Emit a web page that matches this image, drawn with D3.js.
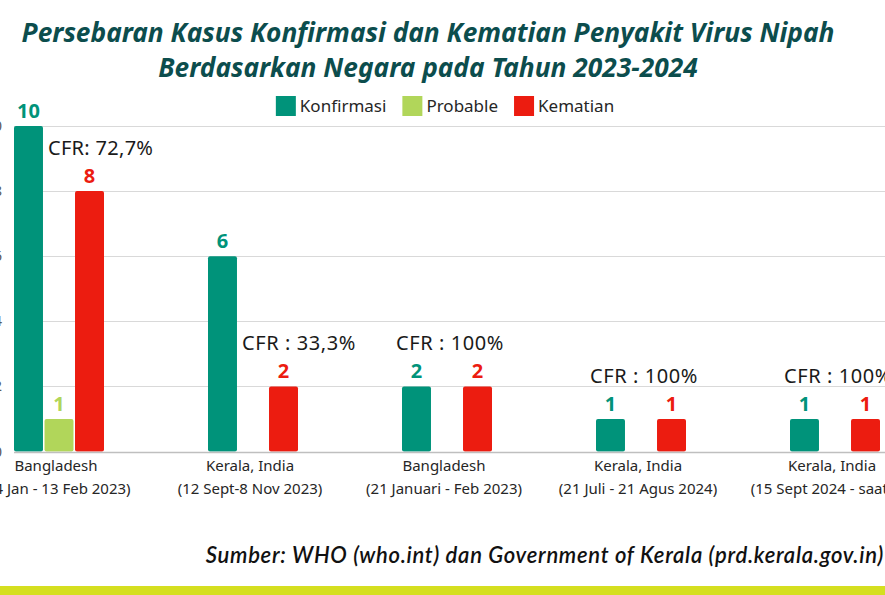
<!DOCTYPE html>
<html>
<head>
<meta charset="utf-8">
<script src="https://d3js.org/d3.v7.min.js"></script>
<style>
  body { margin: 0; background: #fff; }
  text { font-family: "Noto Sans", sans-serif; }
</style>
</head>
<body>
<svg id="chart" width="885" height="595"></svg>
<script>
  // data
  var categories = ["Bangladesh|(24 Jan - 13 Feb 2023)",
                    "Kerala, India|(12 Sept-8 Nov 2023)",
                    "Bangladesh|(21 Januari - Feb 2023)",
                    "Kerala, India|(21 Juli - 21 Agus 2024)",
                    "Kerala, India|(15 Sept 2024 - saat ini)"];
  var series = ["Konfirmasi", "Probable", "Kematian"];
  var konfirmasi = [10, 6, 2, 1, 1];
  var probable = [1, 0, 0, 0, 0];
  var kematian = [8, 2, 2, 1, 1];
  var cfr = ["CFR: 72,7%", "CFR : 33,3%", "CFR : 100%", "CFR : 100%", "CFR : 100%"];
  var yTicks = [0, 2, 4, 6, 8, 10];

  var colors = { Konfirmasi: "#00937a", Probable: "#b1d65a", Kematian: "#ec1c10" };

  var rows = categories.map(function(c, i) {
    return { cat: c, Konfirmasi: konfirmasi[i], Probable: probable[i], Kematian: kematian[i], cfr: cfr[i] };
  });

  var svg = d3.select("#chart");
  var groupW = 90;

  var x0 = d3.scaleBand().domain(categories).range([-38, 932]);
  var x1 = d3.scaleBand().domain(series).range([0, groupW]).paddingInner(0.05);
  var y = d3.scaleLinear().domain([0, 10]).range([451.5, 126]);
  var off = (x0.bandwidth() - groupW) / 2;

  // title
  var title = svg.append("g").attr("fill", "#0c4d4d")
    .style("font-family", "Lato").style("font-style", "italic").style("font-weight", 700)
    .style("font-size", "26.3px").attr("text-anchor", "middle");
  title.append("text").attr("x", 428).attr("y", 42)
    .text("Persebaran Kasus Konfirmasi dan Kematian Penyakit Virus Nipah");
  title.append("text").attr("x", 428).attr("y", 77)
    .text("Berdasarkan Negara pada Tahun 2023-2024");

  // gridlines + y labels (mostly outside the crop)
  svg.append("g").selectAll("line").data(yTicks.slice(1)).join("line")
    .attr("x1", 14).attr("x2", 885)
    .attr("y1", function(d) { return Math.round(y(d)) + 0.5; })
    .attr("y2", function(d) { return Math.round(y(d)) + 0.5; })
    .attr("stroke", "#d9d9d9").attr("stroke-width", 1);
  svg.append("g").selectAll("text").data(yTicks).join("text")
    .attr("x", 2).attr("y", function(d) { return y(d) + 5; })
    .attr("text-anchor", "end").attr("fill", "#595959").style("font-size", "15px")
    .text(function(d) { return d; });

  // bars
  var groups = svg.append("g").selectAll("g").data(rows).join("g")
    .attr("transform", function(d) { return "translate(" + (x0(d.cat) + off) + ",0)"; });

  function present(d) {
    return series.filter(function(s) { return d[s] > 0; }).map(function(s) { return { key: s, value: d[s] }; });
  }

  groups.selectAll("rect").data(present).join("rect")
      .attr("x", function(d) { return x1(d.key); })
      .attr("y", function(d) { return y(d.value); })
      .attr("width", x1.bandwidth())
      .attr("height", function(d) { return y(0) - y(d.value); })
      .attr("rx", 2)
      .attr("fill", function(d) { return colors[d.key]; });

  groups.selectAll("text.val").data(present).join("text").attr("class", "val")
      .attr("x", function(d) { return x1(d.key) + x1.bandwidth() / 2; })
      .attr("y", function(d) { return y(d.value) - 8; })
      .attr("text-anchor", "middle")
      .attr("fill", function(d) { return colors[d.key]; })
      .style("font-size", "20px").style("font-weight", 700)
      .text(function(d) { return d.value; });

  // baseline
  svg.append("line").attr("x1", 14).attr("x2", 885)
    .attr("y1", Math.round(y(0)) + 0.5).attr("y2", Math.round(y(0)) + 0.5)
    .attr("stroke", "#bfbfbf").attr("stroke-width", 1.5);

  // CFR labels: beside the konfirmasi bar when it is taller, else centred above
  groups.append("text")
    .attr("x", function(d) { return d.Konfirmasi > d.Kematian ? x1("Konfirmasi") + x1.bandwidth() + 5 : groupW / 2 + 3; })
    .attr("y", function(d) { return y(d.Kematian) - 36; })
    .attr("text-anchor", function(d) { return d.Konfirmasi > d.Kematian ? "start" : "middle"; })
    .attr("fill", "#1a1a1a").style("font-size", "20px")
    .style("letter-spacing", function(d) { return d.cfr.indexOf(" : ") > -1 ? "0.6px" : "0.3px"; })
    .text(function(d) { return d.cfr; });

  // category labels
  var cl = groups.append("text").attr("text-anchor", "middle").attr("fill", "#262626").style("font-size", "15px");
  cl.append("tspan").attr("x", groupW / 2 - 3).attr("y", 471).text(function(d) { return d.cat.split("|")[0]; });
  cl.append("tspan").attr("x", groupW / 2 - 3).attr("y", 494).text(function(d) { return d.cat.split("|")[1]; });

  // legend
  var legend = svg.append("g");
  var lx = 0;
  series.forEach(function(s) {
    var item = legend.append("g").attr("transform", "translate(" + lx + ",0)");
    item.append("rect").attr("x", 0).attr("y", 96).attr("width", 20).attr("height", 20).attr("fill", colors[s]);
    var t = item.append("text").attr("x", 24).attr("y", 112).attr("fill", "#262626").style("font-size", "17px").text(s);
    lx += 24 + t.node().getComputedTextLength() + 16;
  });
  var lw = lx - 16;
  legend.attr("transform", "translate(" + (445 - lw / 2) + ",0)");

  // source
  svg.append("text").attr("x", 884).attr("y", 563).attr("text-anchor", "end")
    .attr("fill", "#111").style("font-family", "Lato").style("font-style", "italic").style("font-weight", 600)
    .style("font-size", "22px").style("letter-spacing", "0.7px")
    .text("Sumber:  WHO (who.int) dan Government of Kerala (prd.kerala.gov.in)");

  // bottom strip
  svg.append("rect").attr("x", 0).attr("y", 586).attr("width", 885).attr("height", 9).attr("fill", "#d5df1f");
</script>
</body>
</html>
